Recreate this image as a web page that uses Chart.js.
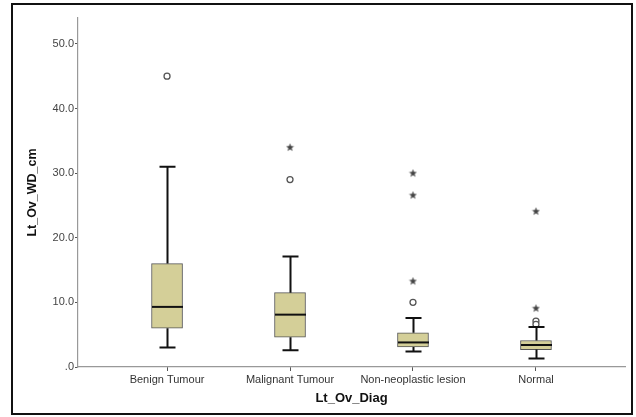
<!DOCTYPE html>
<html>
<head>
<meta charset="utf-8">
<script src="https://cdn.jsdelivr.net/npm/chart.js@4.4.1/dist/chart.umd.min.js"></script>
<style>
  html, body { margin: 0; padding: 0; background: #ffffff; }
  #c { display: block; }
</style>
</head>
<body>
<canvas id="c" width="636" height="417"></canvas>
<script>
// ---- data ----
const categories   = ['Benign Tumour', 'Malignant Tumour', 'Non-neoplastic lesion', 'Normal'];
const whiskerLow   = [3.0, 2.6, 2.4, 1.3];
const q1           = [6.0, 4.6, 3.1, 2.7];
const median       = [9.3, 8.1, 3.8, 3.4];
const q3           = [16.0, 11.5, 5.3, 4.1];
const whiskerHigh  = [31.0, 17.1, 7.6, 6.2];
const outliersCircle = [[45.0], [29.0], [10.0], [7.1, 6.6]];
const outliersStar   = [[], [34.0], [30.0, 26.6, 13.3], [24.1, 9.1]];
const yTicks = [0, 10, 20, 30, 40, 50];

// ---- build datasets ----
const boxData = categories.map((c, i) => ({ x: i, y: [q1[i], q3[i]] }));
const circleData = [];
outliersCircle.forEach((arr, i) => arr.forEach(v => circleData.push({ x: i, y: v })));
const starData = [];
outliersStar.forEach((arr, i) => arr.forEach(v => starData.push({ x: i, y: v })));

// star marker
const starImg = document.createElement('canvas');
starImg.width = 9; starImg.height = 9;
(function () {
  const g = starImg.getContext('2d');
  g.fillStyle = '#444';
  g.beginPath();
  const cx = 4.5, cy = 4.8, R = 4.2, r = 1.8;
  for (let k = 0; k < 10; k++) {
    const a = -Math.PI / 2 + k * Math.PI / 5;
    const rad = k % 2 === 0 ? R : r;
    const px = cx + rad * Math.cos(a), py = cy + rad * Math.sin(a);
    if (k === 0) g.moveTo(px, py); else g.lineTo(px, py);
  }
  g.closePath();
  g.fill();
})();

const boxPlugin = {
  id: 'boxParts',
  beforeDraw(chart) {
    const ctx = chart.ctx;
    ctx.save();
    ctx.fillStyle = '#ffffff';
    ctx.fillRect(0, 0, chart.width, chart.height);
    ctx.strokeStyle = '#111';
    ctx.lineWidth = 2;
    ctx.strokeRect(12, 4, 620, 410);
    ctx.restore();
  },
  afterDatasetsDraw(chart) {
    const ctx = chart.ctx;
    const xs = chart.scales.x, ys = chart.scales.y;
    const halfBox = 15.5, halfCap = 8;
    ctx.save();
    ctx.strokeStyle = '#111';
    ctx.lineWidth = 2;
    categories.forEach((c, i) => {
      const x = Math.round(xs.getPixelForValue(i)) + 0.5;
      const yl = ys.getPixelForValue(whiskerLow[i]);
      const y1 = ys.getPixelForValue(q1[i]);
      const y3 = ys.getPixelForValue(q3[i]);
      const yh = ys.getPixelForValue(whiskerHigh[i]);
      const ym = ys.getPixelForValue(median[i]);
      ctx.beginPath();
      ctx.moveTo(x, y3); ctx.lineTo(x, yh);
      ctx.moveTo(x - halfCap, yh); ctx.lineTo(x + halfCap, yh);
      ctx.moveTo(x, y1); ctx.lineTo(x, yl);
      ctx.moveTo(x - halfCap, yl); ctx.lineTo(x + halfCap, yl);
      ctx.stroke();
      ctx.beginPath();
      ctx.moveTo(x - halfBox, ym); ctx.lineTo(x + halfBox, ym);
      ctx.stroke();
    });
    ctx.restore();
  }
};

new Chart(document.getElementById('c'), {
  type: 'bar',
  data: {
    datasets: [
      {
        type: 'bar',
        data: boxData,
        backgroundColor: '#d4cf98',
        borderColor: '#555',
        borderWidth: 1,
        borderSkipped: false,
        barThickness: 31,
        order: 2
      },
      {
        type: 'scatter',
        data: circleData,
        pointStyle: 'circle',
        radius: 3,
        backgroundColor: '#ffffff',
        borderColor: '#555',
        borderWidth: 1.3,
        order: 1
      },
      {
        type: 'scatter',
        data: starData,
        pointStyle: starImg,
        radius: 4,
        order: 1
      }
    ]
  },
  options: {
    responsive: false,
    animation: false,
    events: [],
    layout: { padding: { top: 18, right: 11, left: 0, bottom: 0 } },
    plugins: { legend: { display: false }, tooltip: { enabled: false } },
    scales: {
      x: {
        type: 'linear',
        offset: false,
        min: -0.724,
        max: 3.724,
        afterBuildTicks(scale) { scale.ticks = categories.map((c, i) => ({ value: i })); },
        afterFit(scale) { scale.height = 50; },
        ticks: {
          callback: (v) => categories[v],
          font: { family: 'Liberation Sans', size: 11 },
          color: '#333',
          padding: 2,
          maxRotation: 0,
          autoSkip: false
        },
        grid: { offset: false, drawOnChartArea: false, drawTicks: true, tickLength: 4, color: '#555', tickWidth: 1 },
        border: { color: '#999', width: 1.2 },
        title: {
          display: true,
          text: 'Lt_Ov_Diag',
          font: { family: 'Liberation Sans', size: 13, weight: 'bold' },
          color: '#111',
          padding: { top: 0, bottom: 11 }
        }
      },
      y: {
        type: 'linear',
        min: 0,
        max: 54,
        afterBuildTicks(scale) { scale.ticks = yTicks.map(v => ({ value: v })); },
        afterFit(scale) { scale.width = 78; },
        ticks: {
          callback: (v) => v === 0 ? '.0' : v.toFixed(1),
          font: { family: 'Liberation Sans', size: 11 },
          color: '#444',
          padding: 1
        },
        grid: { drawOnChartArea: false, drawTicks: true, tickLength: 3, color: '#555', tickWidth: 1 },
        border: { color: '#999', width: 1.2 },
        title: {
          display: true,
          text: 'Lt_Ov_WD_cm',
          font: { family: 'Liberation Sans', size: 12.5, weight: 'bold' },
          color: '#111',
          padding: { top: 25, bottom: 0 }
        }
      }
    }
  },
  plugins: [boxPlugin]
});
</script>
</body>
</html>
